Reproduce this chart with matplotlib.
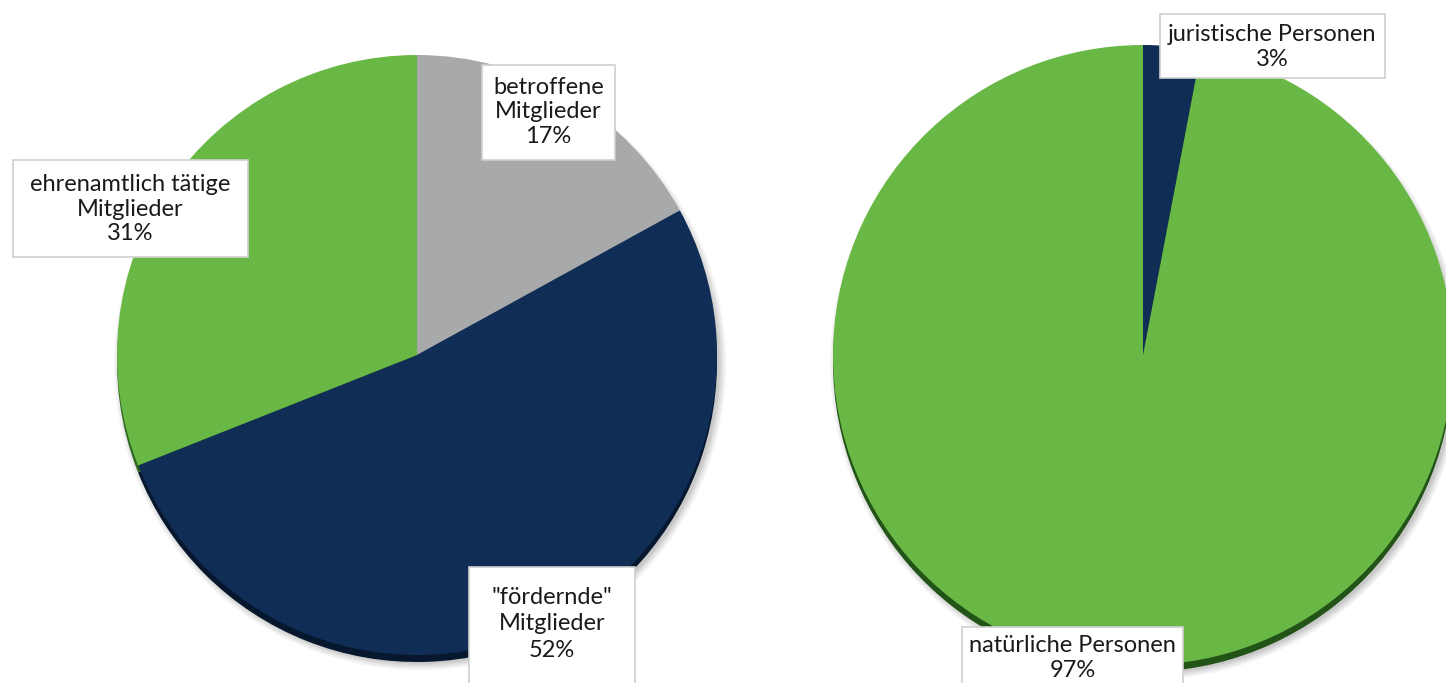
import matplotlib
matplotlib.use("Agg")
import matplotlib.pyplot as plt
from matplotlib.patches import Circle, Rectangle

# Membership structure (left) and legal form of members (right)
left_labels = ["betroffene\nMitglieder", "\"fördernde\"\nMitglieder", "ehrenamtlich tätige\nMitglieder"]
left_values = [17, 52, 31]
left_colors = ["#a7a9aa", "#0f2d55", "#69b845"]
left_side = ["#6f7172", "#06172e", "#2f6a1f"]

right_labels = ["juristische Personen", "natürliche Personen"]
right_values = [3, 97]
right_colors = ["#0f2d55", "#69b845"]
right_side = ["#06172e", "#235417"]

W, H = 1446, 683
fig = plt.figure(figsize=(W / 100, H / 100), dpi=100)
ax = fig.add_axes([0, 0, 1, 1])
ax.set_aspect("equal")

plt.rcParams["font.family"] = ["Lato", "DejaVu Sans"]


def draw_pie(cx, cy, r, values, colors, side_colors):
    # soft drop shadow
    for i, a in enumerate([0.05, 0.05, 0.06, 0.07, 0.08]):
        ax.add_patch(Circle((cx + 3, cy - 9), r + 6 - i * 1.6, color="#404040",
                            alpha=a, lw=0, zorder=1))
    # darker rim below the top surface
    ax.pie(values, colors=side_colors, startangle=90, counterclock=False,
           center=(cx, cy - 7), radius=r, frame=True,
           wedgeprops=dict(linewidth=0), normalize=True)
    wedges, _ = ax.pie(values, colors=colors, startangle=90, counterclock=False,
                       center=(cx, cy), radius=r, frame=True,
                       wedgeprops=dict(linewidth=0), normalize=True)
    for w in wedges:
        w.set_zorder(3)
    return wedges


draw_pie(417, H - 355, 300, left_values, left_colors, left_side)
draw_pie(1143, H - 355, 310, right_values, right_colors, right_side)
ax.set_xlim(0, W)
ax.set_ylim(0, H)
ax.axis("off")


def label(x0, y0, x1, y1, ty, text, pct, spacing=1.2):
    ax.add_patch(Rectangle((x0, H - y1), x1 - x0, y1 - y0, facecolor="white",
                           edgecolor="#cfcfcf", lw=1.2, zorder=5))
    ax.text((x0 + x1) / 2, H - ty, f"{text}\n{pct}%", ha="center",
            va="center", fontsize=17, color="#1a1a1a", linespacing=spacing,
            zorder=6)


label(13, 160, 248, 257, 209, left_labels[2], left_values[2])
label(482, 65, 615, 160, 112, left_labels[0], left_values[0])
label(469, 567, 635, 690, 624, left_labels[1], left_values[1], 1.3)
label(1160, 14, 1385, 78, 47, right_labels[0], right_values[0])
label(962, 627, 1183, 700, 658, right_labels[1], right_values[1])

fig.savefig("out.png", dpi=100)
